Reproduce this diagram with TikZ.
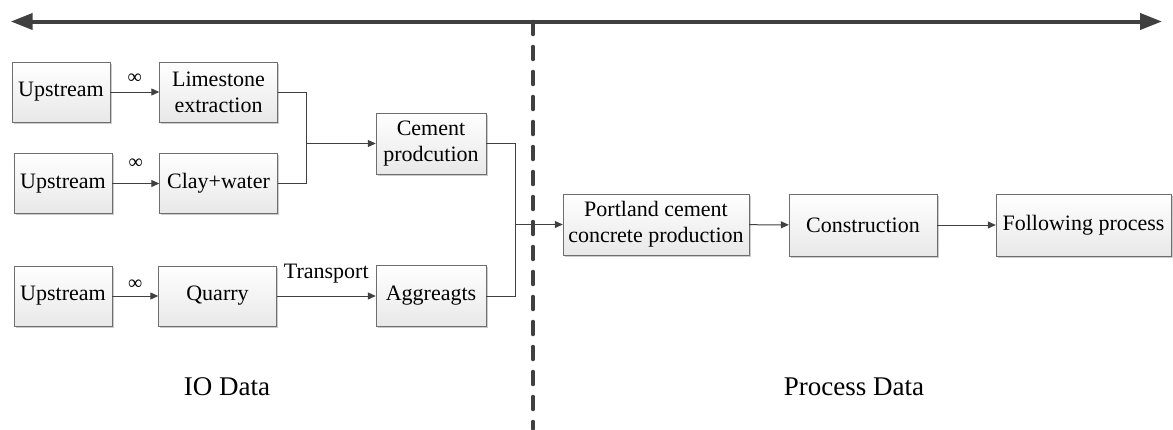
\documentclass[tikz,border=0pt]{standalone}
\usepackage{fontspec}
\setmainfont{Liberation Serif}
\usepackage{tikz}
\usetikzlibrary{arrows.meta, positioning, shadows}
\definecolor{ink}{HTML}{404040}
\definecolor{edge}{HTML}{6E6E6E}
\definecolor{panel}{HTML}{E8E8E8}
\tikzset{
  stage/.style  ={draw=edge, top color=white, bottom color=panel, align=center,
                  inner sep=0pt, minimum height=60pt,
                  font=\rmfamily\fontsize{22}{26}\selectfont,
                  drop shadow={shadow xshift=1.5pt, shadow yshift=-1.5pt,
                               fill=black!20, opacity=1}},
  src/.style    ={stage, minimum width=98pt},
  raw/.style    ={stage, minimum width=118pt},
  mid/.style    ={stage, minimum width=110pt, minimum height=61pt},
  flow/.style   ={-{Triangle[length=8pt,width=7pt]}, draw=ink, line width=1pt},
  link/.style   ={draw=ink, line width=1pt},
  axis/.style   ={{Triangle[length=22pt,width=16pt]}-{Triangle[length=22pt,width=16pt]},
                  draw=ink, line width=4pt},
  divider/.style={draw=ink, line width=3.5pt, dash pattern=on 13pt off 12pt,
                  line cap=round},
  inf/.style    ={font=\rmfamily\fontsize{20}{20}\selectfont, inner sep=0pt},
  note/.style   ={font=\rmfamily\fontsize{22}{26}\selectfont, inner sep=0pt},
  region/.style ={font=\rmfamily\fontsize{27}{30}\selectfont, inner sep=0pt}
}

\begin{document}
\begin{tikzpicture}[x=1pt, y=-1pt]
  \useasboundingbox (0,0) rectangle (1173,429);

  % IO side
  \node[src] (up1) at (61,92)     {Upstream};
  \node[raw] (lime) at (218.5,92) {Limestone\\extraction};
  \node[src] (up2) at (63,183.5)  {Upstream};
  \node[raw] (clay) at (218.5,183.5) {Clay+water};
  \node[src] (up3) at (63,296)    {Upstream};
  \node[raw] (quarry) at (217.5,296) {Quarry};
  \node[mid] (cement) at (431,143.5) {Cement\\prodcution};
  \node[mid] (aggr) at (431,296)  {Aggreagts};

  % process side
  \node[stage, minimum width=186pt, minimum height=61pt] (portland) at (656,224.5)
    {Portland cement\\concrete production};
  \node[stage, minimum width=148pt, minimum height=62pt] (constr) at (863,225) {Construction};
  \node[stage, minimum width=175pt, minimum height=62pt] (follow) at (1083.5,225) {Following process};

  \node[region] (io) at (227,387)   {IO Data};
  \node[region] (pd) at (854,387)   {Process Data};

  \coordinate (axl) at (10.7,21.5);
  \coordinate (axr) at (1162,21.5);
  \coordinate (dtop) at (533,21.5);
  \coordinate (dbot) at (533,429);
  \coordinate (j1) at (306.7,143.5);
  \coordinate (j2) at (515,224.5);

  \draw[axis] (axl) -- (axr);
  \draw[divider] (dtop) -- (dbot);

  \draw[flow] (up1) -- node[inf, yshift=13pt] (inf1) {∞} (lime);
  \draw[flow] (up2) -- node[inf, yshift=20pt] (inf2) {∞} (clay);
  \draw[flow] (up3) -- node[inf, yshift=11pt] (inf3) {∞} (quarry);
  \draw[flow] (quarry) -- node[note, yshift=22pt] (trans) {Transport} (aggr);

  \draw[link] (lime.east) -| (j1);
  \draw[link] (clay.east) -| (j1);
  \draw[flow] (j1) -- (cement.west);
  \draw[link] (cement.east) -| (j2);
  \draw[link] (aggr.east) -| (j2);
  \draw[flow] (j2) -- (portland.west);
  \draw[flow] (portland) -- (constr);
  \draw[flow] (constr) -- (follow);
\end{tikzpicture}
\end{document}
